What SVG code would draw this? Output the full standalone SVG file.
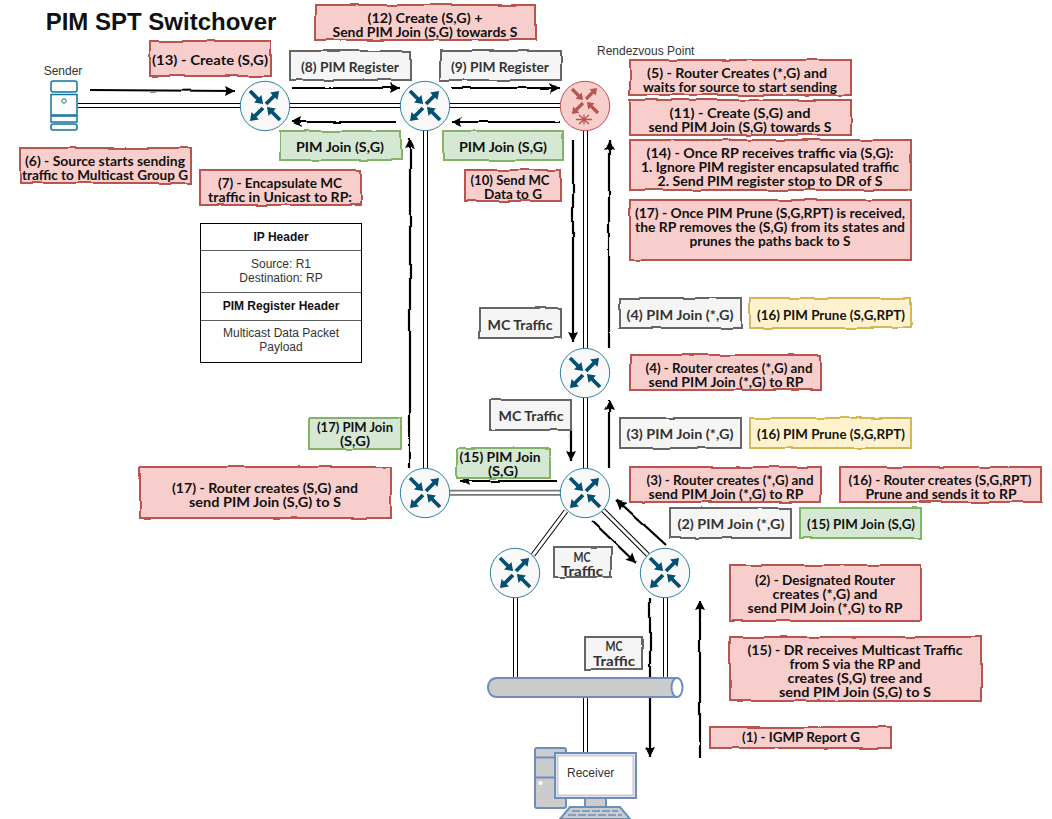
<svg xmlns="http://www.w3.org/2000/svg" width="1052" height="819" viewBox="0 0 1052 819">
<style>
text{font-family:"Lato","Noto Sans",sans-serif;font-size:12.5px;font-weight:700;fill:#111;text-anchor:middle}
.p{font-family:"Liberation Sans",Arial,sans-serif;font-size:12px;font-weight:400;fill:#333}
.pb{font-family:"Liberation Sans",Arial,sans-serif;font-size:12px;font-weight:700;fill:#111}
.r text,.g text,.v text,.y text{transform:translateY(.8px)}
.g text{fill:#333}
.b{stroke-width:2;filter:url(#sk)}
.r .b{fill:#f8cecc;stroke:#b85450}
.g .b{fill:#f5f5f5;stroke:#666}
.v .b{fill:#d5e8d4;stroke:#82b366}
.y .b{fill:#fff2cc;stroke:#d6b656}
.o{fill:none;stroke:#000;stroke-width:5}
.i{fill:none;stroke:#fff;stroke-width:3}
.a{fill:none;stroke:#000;stroke-width:2.2;marker-end:url(#ah)}
.sv{fill:#fff;stroke:#10739e;stroke-width:1.5}
.net{stroke:#6c8ebf;stroke-width:2}
</style>
<defs>
<filter id="sk" filterUnits="userSpaceOnUse" x="0" y="0" width="1052" height="819">
<feTurbulence type="fractalNoise" baseFrequency="0.035" numOctaves="2" seed="4" result="n"/>
<feDisplacementMap in="SourceGraphic" in2="n" scale="3" xChannelSelector="R" yChannelSelector="G"/>
</filter>
<marker id="ah" markerUnits="userSpaceOnUse" markerWidth="12" markerHeight="12" refX="10" refY="5" orient="auto" viewBox="0 0 12 10">
<path d="M0,0L10,5L0,10L1.5,5Z" fill="#000"/>
</marker>
<path id="ar" d="M0,-1.9H11V-5.2L18.5,0L11,5.2V1.9H0Z"/>
<g id="router">
<circle r="24.7" fill="#f9f9f9" stroke="#2f7f9f" stroke-width="1"/>
<g fill="#005073">
<use href="#ar" transform="translate(-15,-15) rotate(45)"/>
<use href="#ar" transform="translate(1,-2) rotate(-45)"/>
<use href="#ar" transform="translate(-2,2) rotate(135)"/>
<use href="#ar" transform="translate(15,14) rotate(225)"/>
</g>
</g>
</defs>

<g id="connectors">
<path class="o" d="M78,105.5H560M425.5,131V468M585.5,131V348M585.5,398V468M515.5,598V678M665.5,598V678M585.5,697V752M566,511L533,555M603,510L648,555"/>
<path class="i" d="M78,105.5H560M425.5,131V468M585.5,131V348M585.5,398V468M515.5,598V678M665.5,598V678M585.5,697V752M566,511L533,555M603,510L648,555"/>
<path d="M450,492.8H561" fill="none" stroke="#777" stroke-width="6"/>
<path d="M449,492.8H562" fill="none" stroke="#fff" stroke-width="2.6"/>
<g filter="url(#sk)">
<path class="a" d="M90,90L235,91"/>
<path class="a" d="M292,88L400,88"/>
<path class="a" d="M452,88L560,88"/>
<path class="a" d="M560,122L452,122"/>
<path class="a" d="M396,122L292,122"/>
<path class="a" d="M410,468L410,138"/>
<path class="a" d="M573,140L573,342"/>
<path class="a" d="M609,348L609,140"/>
<path class="a" d="M571,428L571,461"/>
<path class="a" d="M609,469L609,400"/>
<path class="a" d="M557,481L460,481"/>
<path class="a" d="M666,545L617,500"/>
<path class="a" d="M592,521L636,563"/>
<path class="a" d="M650,598L650,757"/>
<path class="a" d="M700,758L700,600"/>
</g>
</g>

<text id="title" x="161" y="30" style="font-family:'Liberation Sans',Arial,sans-serif;font-size:24px">PIM SPT Switchover</text>

<g id="sender">
<text class="p" x="63" y="75">Sender</text>
<rect class="sv" x="51" y="81" width="26" height="11" rx="2"/>
<rect class="sv" x="51" y="94.500" width="26" height="20.500"/>
<rect class="sv" x="51" y="116" width="26" height="6"/>
<rect class="sv" x="51" y="124" width="26" height="6" rx="2"/>
<circle cx="64" cy="101" r="2.200" fill="none" stroke="#10739e"/>
</g>

<use id="r1" href="#router" x="265" y="106"/>
<use id="r2" href="#router" x="425" y="106"/>
<use id="r3" href="#router" x="585" y="373"/>
<use id="r4" href="#router" x="585" y="493"/>
<use id="r5" href="#router" x="425" y="493"/>
<use id="r6" href="#router" x="515" y="573"/>
<use id="r7" href="#router" x="665" y="573"/>

<g id="rp" transform="translate(585,106)">
<circle r="24.700" fill="#f8cecc" stroke="#b85450"/>
<g fill="#b85450">
<use href="#ar" transform="translate(-13,-17) scale(.85) rotate(45)"/>
<use href="#ar" transform="translate(1,-7) scale(.85) rotate(-45)"/>
<use href="#ar" transform="translate(-2,-3) scale(.85) rotate(135)"/>
<use href="#ar" transform="translate(13,7) scale(.85) rotate(225)"/>
</g>
<path d="M-9,13.500H7M-6,9L4,18M4,9L-6,18M-1,8.500V18.500" stroke="#b85450" stroke-width="1.300" fill="none"/>
</g>
<text id="rp-label" class="p" x="597" y="55" style="text-anchor:start">Rendezvous Point</text>

<g id="net">
<path class="net" d="M497,678H677V697H497C485,697 485,678 497,678Z" fill="#ccc"/>
<ellipse class="net" cx="677" cy="687.500" rx="5.500" ry="9.500" fill="#fff"/>
</g>

<g id="receiver">
<rect class="net" x="535" y="748" width="31" height="60" rx="2" fill="#ccc"/>
<path class="net" d="M535,757.500H555M535,777.500H555" fill="none"/>
<circle cx="540.500" cy="783" r="2" fill="#fff"/>
<rect class="net" x="585" y="798" width="21" height="9" fill="#ccc"/>
<path class="net" d="M570,807H620L630,819H560Z" fill="#ccc"/>
<path d="M572,811H618M568,815H622" stroke="#6c8ebf" stroke-width="1.500" stroke-dasharray="8 2"/>
<rect class="net" x="555" y="753" width="81" height="45" fill="#fff"/>
<path d="M557.500,755.500H633.500V795.500H557.500Z" fill="none" stroke="#ccc" stroke-width="2"/>
<text class="p" x="567" y="777" style="text-anchor:start">Receiver</text>
</g>

<g id="box-12" class="r"><rect class="b" x="315" y="5" width="221" height="35"/><text x="425" y="22" textLength="115" lengthAdjust="spacingAndGlyphs">(12) Create (S,G) +</text><text x="425" y="36" textLength="185" lengthAdjust="spacingAndGlyphs">Send PIM Join (S,G) towards S</text></g>
<g id="box-13" class="r"><rect class="b" x="150" y="41" width="121" height="35"/><text x="210" y="64" textLength="116" lengthAdjust="spacingAndGlyphs">(13) - Create (S,G)</text></g>
<g id="box-8" class="g"><rect class="b" x="290" y="51" width="121" height="29"/><text x="350" y="71" textLength="98" lengthAdjust="spacingAndGlyphs">(8) PIM Register</text></g>
<g id="box-9" class="g"><rect class="b" x="440" y="51" width="121" height="29"/><text x="500" y="71" textLength="98" lengthAdjust="spacingAndGlyphs">(9) PIM Register</text></g>
<g id="box-join-1" class="v"><rect class="b" x="280" y="131" width="121" height="29"/><text x="340" y="151" textLength="88" lengthAdjust="spacingAndGlyphs">PIM Join (S,G)</text></g>
<g id="box-join-2" class="v"><rect class="b" x="443" y="131" width="120" height="29"/><text x="503" y="151" textLength="88" lengthAdjust="spacingAndGlyphs">PIM Join (S,G)</text></g>
<g id="box-10" class="r"><rect class="b" x="465" y="170" width="96" height="31"/><text x="510" y="184" textLength="79" lengthAdjust="spacingAndGlyphs">(10) Send MC</text><text x="513" y="198" textLength="58" lengthAdjust="spacingAndGlyphs">Data to G</text></g>
<g id="box-7" class="r"><rect class="b" x="200" y="170" width="161" height="35"/><text x="280" y="187" textLength="124" lengthAdjust="spacingAndGlyphs">(7) - Encapsulate MC</text><text x="280" y="201" textLength="144" lengthAdjust="spacingAndGlyphs">traffic in Unicast to RP:</text></g>
<g id="box-6" class="r"><rect class="b" x="20" y="148" width="171" height="35"/><text x="105" y="165" textLength="160" lengthAdjust="spacingAndGlyphs">(6) - Source starts sending</text><text x="105" y="179" textLength="166" lengthAdjust="spacingAndGlyphs">traffic to Multicast Group G</text></g>
<g id="box-5" class="r"><rect class="b" x="630" y="60" width="221" height="35"/><text x="737" y="77" textLength="180" lengthAdjust="spacingAndGlyphs">(5) - Router Creates (*,G) and</text><text x="740" y="91" textLength="194" lengthAdjust="spacingAndGlyphs">waits for source to start sending</text></g>
<g id="box-11" class="r"><rect class="b" x="630" y="100" width="221" height="35"/><text x="740" y="117" textLength="141" lengthAdjust="spacingAndGlyphs">(11) - Create (S,G) and</text><text x="740" y="131" textLength="183" lengthAdjust="spacingAndGlyphs">send PIM Join (S,G) towards S</text></g>
<g id="box-14" class="r"><rect class="b" x="630" y="140" width="281" height="50"/><text x="770" y="157" textLength="247" lengthAdjust="spacingAndGlyphs">(14) - Once RP receives traffic via (S,G):</text><text x="770" y="171" textLength="258" lengthAdjust="spacingAndGlyphs">1. Ignore PIM register encapsulated traffic</text><text x="770" y="185" textLength="225" lengthAdjust="spacingAndGlyphs">2. Send PIM register stop to DR of S</text></g>
<g id="box-17-rp" class="r"><rect class="b" x="630" y="200" width="281" height="60"/><text x="770" y="217" textLength="270" lengthAdjust="spacingAndGlyphs">(17) - Once PIM Prune (S,G,RPT) is received,</text><text x="770" y="231" textLength="270" lengthAdjust="spacingAndGlyphs">the RP removes the (S,G) from its states and</text><text x="770" y="245" textLength="161" lengthAdjust="spacingAndGlyphs">prunes the paths back to S</text></g>
<g id="box-4-join" class="g"><rect class="b" x="620" y="298" width="121" height="30"/><text x="680" y="319" textLength="107" lengthAdjust="spacingAndGlyphs">(4) PIM Join (*,G)</text></g>
<g id="box-16-a" class="y"><rect class="b" x="750" y="298" width="161" height="30"/><text x="831" y="319" textLength="148" lengthAdjust="spacingAndGlyphs">(16) PIM Prune (S,G,RPT)</text></g>
<g id="box-4" class="r"><rect class="b" x="630" y="355" width="191" height="35"/><text x="729" y="372" textLength="167" lengthAdjust="spacingAndGlyphs">(4) - Router creates (*,G) and</text><text x="726" y="386" textLength="155" lengthAdjust="spacingAndGlyphs">send PIM Join (*,G) to RP</text></g>
<g id="box-3-join" class="g"><rect class="b" x="620" y="418" width="121" height="30"/><text x="680" y="438" textLength="107" lengthAdjust="spacingAndGlyphs">(3) PIM Join (*,G)</text></g>
<g id="box-16-b" class="y"><rect class="b" x="750" y="418" width="161" height="30"/><text x="831" y="438" textLength="148" lengthAdjust="spacingAndGlyphs">(16) PIM Prune (S,G,RPT)</text></g>
<g id="box-3" class="r"><rect class="b" x="630" y="467" width="191" height="35"/><text x="730" y="484" textLength="167" lengthAdjust="spacingAndGlyphs">(3) - Router creates (*,G) and</text><text x="726" y="498" textLength="155" lengthAdjust="spacingAndGlyphs">send PIM Join (*,G) to RP</text></g>
<g id="box-16-c" class="r"><rect class="b" x="840" y="467" width="201" height="35"/><text x="940" y="484" textLength="183" lengthAdjust="spacingAndGlyphs">(16) - Router creates (S,G,RPT)</text><text x="941" y="498" textLength="151" lengthAdjust="spacingAndGlyphs">Prune and sends it to RP</text></g>
<g id="box-2-join" class="g"><rect class="b" x="670" y="508" width="121" height="30"/><text x="731" y="528" textLength="107" lengthAdjust="spacingAndGlyphs">(2) PIM Join (*,G)</text></g>
<g id="box-15-join" class="v"><rect class="b" x="800" y="508" width="121" height="30"/><text x="861" y="528" textLength="108" lengthAdjust="spacingAndGlyphs">(15) PIM Join (S,G)</text></g>
<g id="box-2" class="r"><rect class="b" x="730" y="565" width="191" height="56"/><text x="825" y="584" textLength="140" lengthAdjust="spacingAndGlyphs">(2) - Designated Router</text><text x="825" y="598" textLength="105" lengthAdjust="spacingAndGlyphs">creates (*,G) and</text><text x="825" y="612" textLength="155" lengthAdjust="spacingAndGlyphs">send PIM Join (*,G) to RP</text></g>
<g id="box-15" class="r"><rect class="b" x="730" y="637" width="251" height="64"/><text x="855" y="654" textLength="215" lengthAdjust="spacingAndGlyphs">(15) - DR receives Multicast Traffic</text><text x="855" y="668" textLength="131" lengthAdjust="spacingAndGlyphs">from S via the RP and</text><text x="855" y="682" textLength="135" lengthAdjust="spacingAndGlyphs">creates (S,G) tree and</text><text x="855" y="696" textLength="152" lengthAdjust="spacingAndGlyphs">send PIM Join (S,G) to S</text></g>
<g id="box-1" class="r"><rect class="b" x="710" y="727" width="181" height="21"/><text x="801" y="741" textLength="118" lengthAdjust="spacingAndGlyphs">(1) - IGMP Report G</text></g>
<g id="mc-1" class="g"><rect class="b" x="480" y="308" width="81" height="30"/><text x="520" y="329" textLength="65" lengthAdjust="spacingAndGlyphs">MC Traffic</text></g>
<g id="mc-2" class="g"><rect class="b" x="490" y="400" width="81" height="30"/><text x="531" y="420" textLength="65" lengthAdjust="spacingAndGlyphs">MC Traffic</text></g>
<g id="mc-3" class="g"><rect class="b" x="554" y="547" width="57" height="30"/><text x="582" y="561" textLength="17" lengthAdjust="spacingAndGlyphs">MC</text><text x="582" y="575" textLength="42" lengthAdjust="spacingAndGlyphs">Traffic</text></g>
<g id="mc-4" class="g"><rect class="b" x="585" y="637" width="57" height="32"/><text x="614" y="650" textLength="17" lengthAdjust="spacingAndGlyphs">MC</text><text x="614" y="665" textLength="42" lengthAdjust="spacingAndGlyphs">Traffic</text></g>
<g id="box-17-join" class="v"><rect class="b" x="309" y="418" width="92" height="31"/><text x="355" y="431" textLength="76" lengthAdjust="spacingAndGlyphs">(17) PIM Join</text><text x="355" y="445" textLength="30" lengthAdjust="spacingAndGlyphs">(S,G)</text></g>
<g id="box-15-join-b" class="v"><rect class="b" x="457" y="448" width="93" height="30"/><text x="500" y="461" textLength="81" lengthAdjust="spacingAndGlyphs">(15) PIM Join</text><text x="503" y="475" textLength="30" lengthAdjust="spacingAndGlyphs">(S,G)</text></g>
<g id="box-17" class="r"><rect class="b" x="140" y="467" width="251" height="51"/><text x="265" y="492" textLength="186" lengthAdjust="spacingAndGlyphs">(17) - Router creates (S,G) and</text><text x="265" y="506" textLength="152" lengthAdjust="spacingAndGlyphs">send PIM Join (S,G) to S</text></g>

<g id="packet">
<rect x="200.500" y="223.500" width="161" height="139" fill="#fff" stroke="#000"/>
<path d="M200.500,250.500H361.500M200.500,292.500H361.500M200.500,320.500H361.500" stroke="#333" fill="none" stroke-width="0.800"/>
<text class="pb" x="281" y="241">IP Header</text>
<text class="p" x="281" y="268">Source: R1</text>
<text class="p" x="281" y="282">Destination: RP</text>
<text class="pb" x="281" y="310">PIM Register Header</text>
<text class="p" x="281" y="337">Multicast Data Packet</text>
<text class="p" x="281" y="351">Payload</text>
</g>
</svg>
